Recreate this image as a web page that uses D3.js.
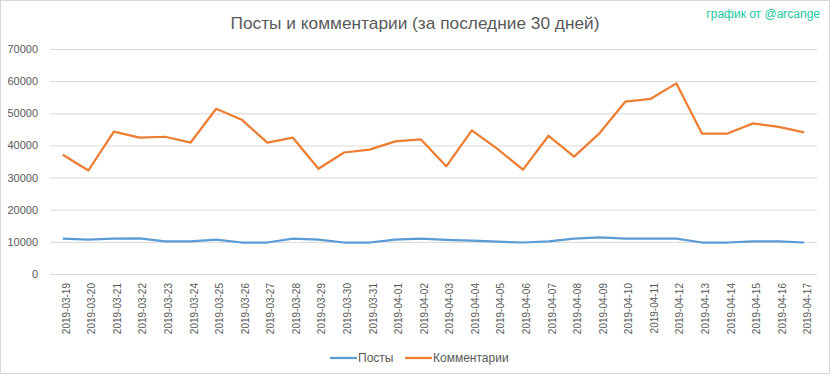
<!DOCTYPE html>
<html>
<head>
<meta charset="utf-8">
<script src="https://cdn.jsdelivr.net/npm/d3@7"></script>
<style>
  body { margin: 0; background: #fff; }
  svg { font-family: "Liberation Sans", Arial, sans-serif; }
</style>
</head>
<body>
<svg id="chart"></svg>
<script>
var dates = [
  "2019-03-19", "2019-03-20", "2019-03-21", "2019-03-22", "2019-03-23",
  "2019-03-24", "2019-03-25", "2019-03-26", "2019-03-27", "2019-03-28",
  "2019-03-29", "2019-03-30", "2019-03-31", "2019-04-01", "2019-04-02",
  "2019-04-03", "2019-04-04", "2019-04-05", "2019-04-06", "2019-04-07",
  "2019-04-08", "2019-04-09", "2019-04-10", "2019-04-11", "2019-04-12",
  "2019-04-13", "2019-04-14", "2019-04-15", "2019-04-16", "2019-04-17"
];

var posts = [
  11000, 10700, 11000, 11100, 10150, 10150, 10700, 9800, 9800, 11000,
  10700, 9800, 9800, 10700, 11000, 10650, 10350, 10050, 9800, 10150,
  11000, 11400, 11000, 11000, 11000, 9800, 9800, 10150, 10150, 9800
];

var comments = [
  37100, 32200, 44300, 42400, 42700, 40900, 51400, 48000, 40900, 42400,
  32750, 37800, 38700, 41250, 41900, 33500, 44700, 38900, 32450, 43000,
  36500, 43850, 53600, 54500, 59300, 43700, 43700, 46850, 45800, 44050
];

var yTicks = [0, 10000, 20000, 30000, 40000, 50000, 60000, 70000];

var seriesNames = ["Посты", "Комментарии"];
var colors = ["#5b9bd5", "#ed7d31"];

var W = 832, H = 378;
var margin = { top: 49, right: 15, bottom: 104, left: 50 },
  width = W - margin.left - margin.right,
  height = H - margin.top - margin.bottom;

var svg = d3.select("#chart").attr("width", W).attr("height", H);

// outer frame
svg.append("rect")
  .attr("x", 0.5).attr("y", 0.5)
  .attr("width", W - 3).attr("height", H - 5)
  .attr("fill", "#fff")
  .attr("stroke", "#d9d9d9");

// title + watermark
svg.append("text")
  .attr("x", 415).attr("y", 29)
  .attr("text-anchor", "middle")
  .attr("font-size", 17.3)
  .attr("fill", "#595959")
  .text("Посты и комментарии (за последние 30 дней)");

svg.append("text")
  .attr("x", 820).attr("y", 18)
  .attr("text-anchor", "end")
  .attr("font-size", 12)
  .attr("fill", "#19c9a0")
  .text("график от @arcange");

var g = svg.append("g")
  .attr("transform", "translate(" + margin.left + "," + margin.top + ")");

var x = d3.scalePoint().domain(dates).range([0, width]).padding(0.5);
var y = d3.scaleLinear().domain([0, 70000]).range([height, 0]);

// gridlines
g.append("g")
  .attr("class", "grid")
  .call(d3.axisLeft(y).tickValues(yTicks).tickSize(-width).tickFormat(""))
  .call(function (a) {
    a.select(".domain").remove();
    a.selectAll("line").attr("stroke", "#d9d9d9");
  });

// y axis labels
g.append("g")
  .call(d3.axisLeft(y).tickValues(yTicks).tickSize(0).tickPadding(12).tickFormat(d3.format("d")))
  .call(function (a) {
    a.select(".domain").remove();
    a.selectAll("text")
      .attr("font-size", 11)
      .attr("fill", "#595959")
      .attr("font-family", "Liberation Sans, Arial, sans-serif");
  });

// x axis labels (rotated)
g.append("g")
  .attr("transform", "translate(0," + height + ")")
  .call(d3.axisBottom(x).tickSize(0))
  .call(function (a) {
    a.select(".domain").remove();
    a.selectAll("text")
      .attr("font-size", 10)
      .attr("fill", "#595959")
      .attr("font-family", "Liberation Sans, Arial, sans-serif")
      .attr("text-anchor", "end")
      .attr("dy", "0.35em")
      .attr("transform", "translate(0,9) rotate(-90)");
  });

var line = d3.line()
  .x(function (d, i) { return x(dates[i]); })
  .y(function (d) { return y(d); });

[posts, comments].forEach(function (s, i) {
  g.append("path")
    .datum(s)
    .attr("fill", "none")
    .attr("stroke", colors[i])
    .attr("stroke-width", 2.25)
    .attr("stroke-linejoin", "round")
    .attr("d", line);
});

// legend
var legendX = [330, 405];
var legend = svg.append("g");
seriesNames.forEach(function (name, i) {
  legend.append("line")
    .attr("x1", legendX[i]).attr("x2", legendX[i] + 27)
    .attr("y1", 358).attr("y2", 358)
    .attr("stroke", colors[i])
    .attr("stroke-width", 2.25);
  legend.append("text")
    .attr("x", legendX[i] + 28).attr("y", 362)
    .attr("font-size", 12)
    .attr("fill", "#595959")
    .text(name);
});
</script>
</body>
</html>
